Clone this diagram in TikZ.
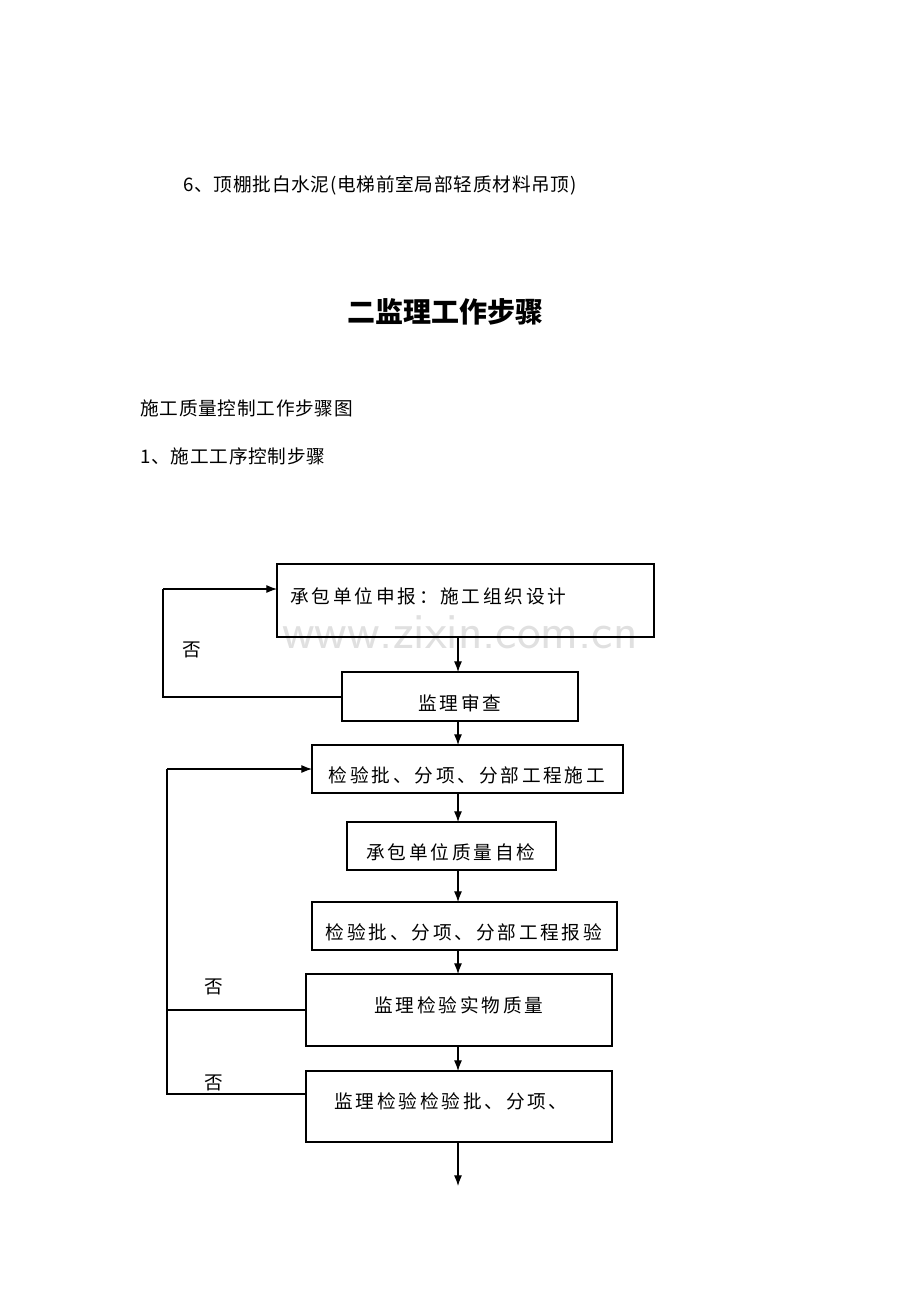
\documentclass[tikz,border=0pt]{standalone}
\usepackage{fontspec}
\setmainfont{Liberation Serif}
\newfontfamily\cjk{Noto Sans CJK SC}
\newfontfamily\cjksp[LetterSpace=15]{Noto Sans CJK SC}
\newfontfamily\cjkss[LetterSpace=4]{Noto Sans CJK SC}
\usetikzlibrary{arrows.meta}
\begin{document}
\begin{tikzpicture}[x=0.75pt,y=-0.75pt,
 bx/.style={draw,line width=0.8pt},
 t/.style={font=\cjk\fontsize{14}{16}\selectfont,inner sep=0},
 tl/.style={font=\cjkss\fontsize{14}{16}\selectfont,inner sep=0},
 ts/.style={font=\cjksp\fontsize{14}{16}\selectfont,inner sep=0},
 ar/.style={-{Latex[length=8pt,width=6pt]},line width=0.8pt},
 ln/.style={line width=0.8pt}]
\useasboundingbox (0,0) rectangle (920,1302);
\node[tl,anchor=west] (l1) at (183,185) {6、顶棚批白水泥(电梯前室局部轻质材料吊顶)};
\node[t,font=\cjk\bfseries\fontsize{21}{24}\selectfont] (ti) at (445,312) {二监理工作步骤};
\node[tl,anchor=west] (l2) at (140,408) {施工质量控制工作步骤图};
\node[tl,anchor=west] (l3) at (140,456) {1、施工工序控制步骤};
\node[text=black!12,font=\sffamily\fontsize{38}{40}\selectfont] (wm) at (460,632) {www.zixin.com.cn};
\draw[bx] (277,564) rectangle (654,637);
\node[ts,anchor=west] (b1) at (290,596) {承包单位申报：施工组织设计};
\draw[bx] (342,672) rectangle (578,721);
\node[ts] (b2) at (460,703) {监理审查};
\draw[bx] (312,745) rectangle (623,793);
\node[ts] (b3) at (467,775) {检验批、分项、分部工程施工};
\draw[bx] (347,822) rectangle (556,870);
\node[ts] (b4) at (451,852) {承包单位质量自检};
\draw[bx] (312,902) rectangle (617,950);
\node[ts] (b5) at (464,932) {检验批、分项、分部工程报验};
\draw[bx] (306,974) rectangle (612,1046);
\node[ts] (b6) at (459,1005) {监理检验实物质量};
\draw[bx] (306,1071) rectangle (612,1142);
\node[ts] (b7) at (451,1101) {监理检验检验批、分项、};
\coordinate (e) at (458,1186);
\foreach \a/\b in {637/672,721/745,793/822,870/902,950/974,1046/1071,1142/1186}
  \draw[ar] (458,\a) -- (458,\b);
\draw[ln] (342,697) -- (163,697) -- (163,589);
\draw[ar] (163,589) -- (277,589);
\draw[ar] (167,769) -- (312,769);
\draw[ln] (167,769) -- (167,1094) -- (306,1094);
\draw[ln] (167,1010) -- (306,1010);
\node[t] (n1) at (192,650) {否};
\node[t] (n2) at (214,987) {否};
\node[t] (n3) at (214,1083) {否};
\end{tikzpicture}
\end{document}
